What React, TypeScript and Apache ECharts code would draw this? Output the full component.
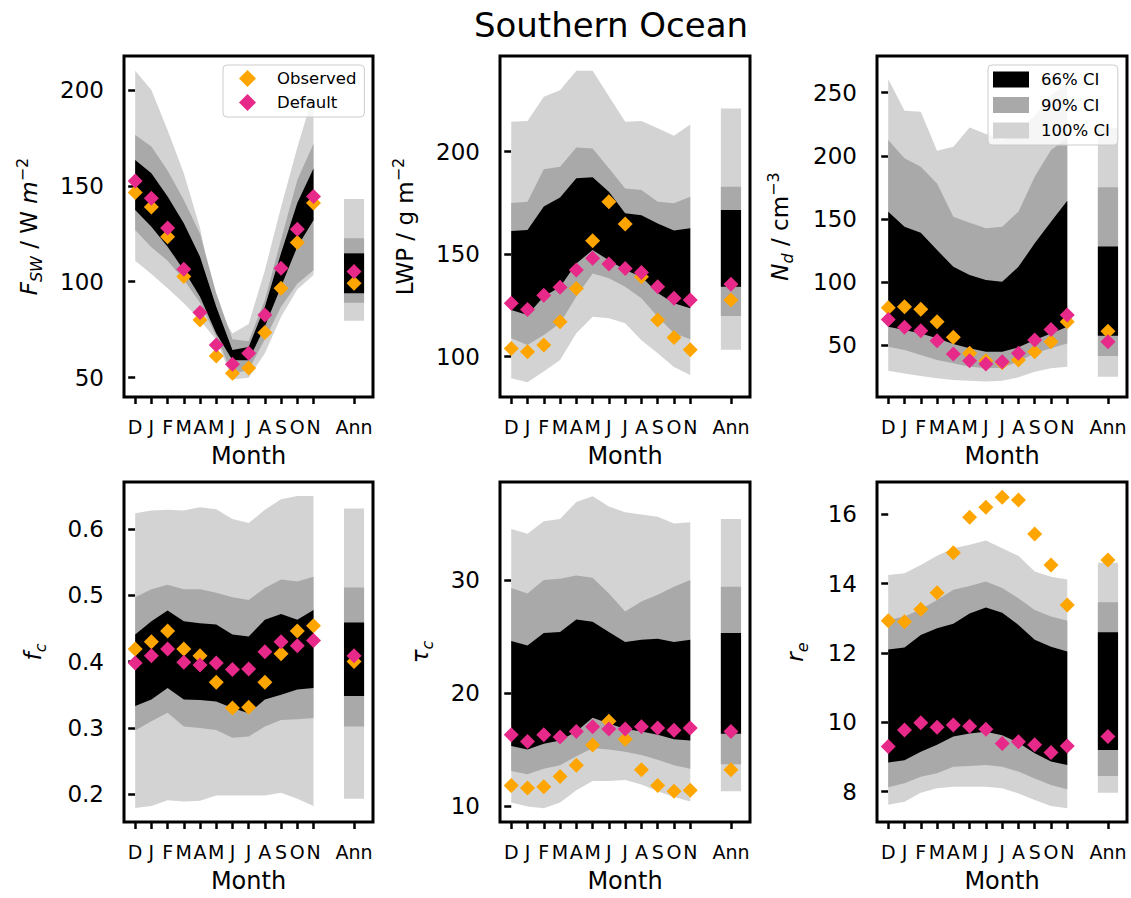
import { useEffect, useRef } from 'react';
import * as echarts from 'echarts';

const FONT = 'DejaVu Sans';
const ORANGE = '#ffa500';
const PINK = '#e7298a';
const GREY_100 = '#d3d3d3';
const GREY_90 = '#a9a9a9';
const BLACK = '#000000';

// Month order on the x axis, December first; the annual mean sits apart on the right.
const monthLabels = ['D', 'J', 'F', 'M', 'A', 'M', 'J', 'J', 'A', 'S', 'O', 'N'];
const annualLabel = 'Ann';

// Annual arrays hold: [observed, default, lo100, hi100, lo90, hi90, lo66, hi66]

// Shortwave flux F_SW (W m^-2)
const fswTicks = [50, 100, 150, 200];
const fswObserved = [146.5, 139, 123.5, 102.7, 80, 61.3, 52.3, 55, 73.5, 96.6, 120.4, 141];
const fswDefault = [152.5, 143.5, 128, 106.5, 84, 67, 57, 62.7, 82.7, 107, 127.4, 144.4];
const fswLo100 = [111, 104, 96.6, 88.8, 80, 69.6, 49, 50, 62.7, 81.8, 96, 103.5];
const fswHi100 = [210, 200, 179, 156.5, 128, 87, 73, 78, 106, 139, 170, 198];
const fswLo90 = [127, 118, 111, 101, 89, 71.4, 52, 54, 70, 87, 99, 106];
const fswHi90 = [176.5, 170.5, 158, 142.6, 125, 94, 70, 69, 90.5, 122, 153, 172];
const fswLo66 = [137.4, 128.7, 118.3, 106, 92.2, 73, 59, 59, 76.6, 97.5, 118.3, 132];
const fswHi66 = [163.5, 156.5, 144.4, 130.5, 113, 87, 64.4, 66, 87, 115, 141, 159];
const fswAnnual = [99.2, 105.3, 79.6, 143.2, 89, 122.7, 94, 114.8];

// Liquid water path (g m^-2)
const lwpTicks = [100, 150, 200];
const lwpObserved = [104, 102.4, 105.7, 117, 133.3, 156.6, 175.6, 164.7, 139, 117.9, 109.3, 103.3];
const lwpDefault = [126, 123, 130, 133.8, 142.3, 148, 145.2, 143, 141.1, 134.1, 128.5, 127.6];
const lwpLo100 = [89.4, 87.5, 92.7, 98.4, 111.4, 119.5, 118.7, 116.3, 108, 101.6, 95, 91];
const lwpHi100 = [214.6, 215, 226.8, 230, 239.5, 239.5, 227, 214.6, 215, 211.4, 207.8, 213.3];
const lwpLo90 = [109, 105.7, 110.6, 116.3, 129.3, 140.6, 138.2, 134.1, 128.5, 119.5, 111.4, 108.5];
const lwpHi90 = [175, 175.6, 191.4, 192.7, 202, 201.6, 191.9, 182, 181.3, 175.6, 174.8, 178];
const lwpLo66 = [122.8, 120.3, 129.3, 134, 145.5, 152, 147, 142.3, 139, 131, 126, 123.6];
const lwpHi66 = [161.3, 161.8, 173.2, 177.7, 187, 187.5, 180.5, 170, 169, 165, 161.5, 162.6];
const lwpAnnual = [127.6, 135.3, 103.3, 221.1, 119.8, 182.9, 134.1, 171.5];

// Droplet number concentration N_d (cm^-3)
const ndTicks = [50, 100, 150, 200, 250];
const ndObserved = [79.6, 80.4, 78.3, 68.5, 56.1, 43.4, 37.6, 36, 38.1, 44.7, 52.6, 68.5];
const ndDefault = [70.3, 64, 61.4, 53.4, 42.9, 37.6, 35, 36.8, 43.4, 54, 62.4, 73.8];
const ndLo100 = [29.7, 27.5, 25.4, 23.6, 22.3, 21.7, 21, 21.7, 24.4, 28.9, 31.5, 32.8];
const ndHi100 = [260.8, 235.7, 235, 204, 207.2, 222.5, 217.2, 212.5, 218, 232, 248, 258];
const ndLo90 = [48.7, 46, 42.1, 38.1, 35.5, 32.8, 31.5, 32, 36.8, 43.4, 47.4, 51.3];
const ndHi90 = [212.5, 198, 191.3, 178, 151.7, 147, 142.5, 143.8, 155.7, 183.4, 204.6, 214];
const ndLo66 = [64.5, 61.9, 59.2, 55.3, 50.8, 47.4, 44.7, 44.7, 48.2, 54, 59.2, 64.5];
const ndHi66 = [155.7, 143.8, 139, 125.3, 112, 105.5, 101.5, 100.2, 112, 130.6, 147.8, 164.4];
const ndAnnual = [61, 52.6, 24.9, 222, 41.3, 175, 57.4, 128];

// Cloud fraction f_c
const fcTicks = [0.2, 0.3, 0.4, 0.5, 0.6];
const fcObserved = [0.419, 0.43, 0.446, 0.419, 0.409, 0.369, 0.33, 0.331, 0.369, 0.412, 0.446, 0.454];
const fcDefault = [0.398, 0.409, 0.419, 0.399, 0.395, 0.398, 0.388, 0.389, 0.415, 0.43, 0.424, 0.432];
const fcLo100 = [0.179, 0.182, 0.191, 0.189, 0.19, 0.198, 0.198, 0.198, 0.198, 0.202, 0.193, 0.182];
const fcHi100 = [0.624, 0.628, 0.629, 0.628, 0.633, 0.63, 0.615, 0.609, 0.629, 0.645, 0.65, 0.65];
const fcLo90 = [0.296, 0.31, 0.323, 0.302, 0.3, 0.297, 0.285, 0.287, 0.302, 0.312, 0.313, 0.315];
const fcHi90 = [0.497, 0.509, 0.516, 0.509, 0.509, 0.504, 0.497, 0.493, 0.511, 0.524, 0.521, 0.528];
const fcLo66 = [0.333, 0.343, 0.36, 0.343, 0.342, 0.34, 0.33, 0.322, 0.343, 0.35, 0.358, 0.36];
const fcHi66 = [0.441, 0.461, 0.477, 0.461, 0.458, 0.456, 0.441, 0.438, 0.463, 0.472, 0.463, 0.478];
const fcAnnual = [0.4, 0.409, 0.193, 0.631, 0.302, 0.512, 0.348, 0.459];

// Cloud optical depth tau_c
const tauTicks = [10, 20, 30];
const tauObserved = [11.8, 11.6, 11.7, 12.6, 13.6, 15.4, 17.5, 15.9, 13.2, 11.8, 11.3, 11.4];
const tauDefault = [16.3, 15.7, 16.3, 16.1, 16.6, 17, 16.8, 16.8, 17, 16.9, 16.7, 16.9];
const tauLo100 = [10.3, 9.95, 9.8, 10.3, 11.4, 12.2, 12.2, 12.3, 11.9, 11.3, 10.8, 10.4];
const tauHi100 = [34.5, 34.1, 35.2, 35.4, 36.9, 37.4, 36.5, 36, 35.8, 35.6, 35, 35.1];
const tauLo90 = [13.1, 12.8, 13.3, 13.6, 14.4, 15.1, 15, 14.8, 14.5, 14.1, 13.6, 13.3];
const tauHi90 = [29.3, 28.8, 30, 30.1, 30.4, 30.2, 28.8, 27.2, 28.1, 28.7, 29.4, 30];
const tauLo66 = [15.3, 15, 15.5, 15.8, 16.6, 17.8, 17.3, 16.8, 16.6, 16.3, 15.9, 15.8];
const tauHi66 = [24.6, 24.2, 25.3, 25.4, 26.5, 26.3, 25.4, 24.5, 24.7, 24.8, 24.5, 24.7];
const tauAnnual = [13.2, 16.6, 11.3, 35.4, 13.7, 29.4, 16.4, 25.3];

// Effective radius r_e
const reTicks = [8, 10, 12, 14, 16];
const reObserved = [12.93, 12.9, 13.26, 13.74, 14.89, 15.91, 16.2, 16.49, 16.41, 15.43, 14.54, 13.38];
const reDefault = [9.3, 9.78, 9.99, 9.86, 9.92, 9.89, 9.8, 9.39, 9.44, 9.35, 9.13, 9.32];
const reLo100 = [7.62, 7.71, 7.97, 8.1, 8.14, 8.14, 8.14, 8.1, 7.95, 7.76, 7.59, 7.52];
const reHi100 = [14.25, 14.3, 14.54, 14.8, 15.02, 15.12, 15.24, 15.02, 14.8, 14.35, 14.2, 14.12];
const reLo90 = [8.13, 8.24, 8.43, 8.53, 8.72, 8.74, 8.77, 8.72, 8.58, 8.38, 8.19, 8.07];
const reHi90 = [12.95, 13.05, 13.26, 13.53, 13.82, 13.93, 14.06, 13.87, 13.58, 13.24, 13.05, 12.93];
const reLo66 = [8.84, 8.91, 9.15, 9.35, 9.59, 9.68, 9.73, 9.63, 9.41, 9.11, 8.87, 8.77];
const reHi66 = [12.1, 12.16, 12.52, 12.71, 12.84, 13.14, 13.31, 13.16, 12.81, 12.38, 12.18, 12.04];
const reAnnual = [14.68, 9.59, 7.97, 14.6, 8.45, 13.46, 9.2, 12.6];

// Layout of the x axis: months at 0..11, the annual bar centred at ANN_X.
const monthX = monthLabels.map((_, k) => k);
const ANN_X = 13.5;
const ANN_HALF = 0.62;
const X_MIN = -0.69;
const X_MAX = 14.67;

const baseText = { fontFamily: FONT, fontSize: 23, color: '#000', lineHeight: 30 };
const nameRich = {
  r: { ...baseText },
  i: { ...baseText, fontStyle: 'italic' },
  is: { fontFamily: FONT, fontSize: 16, fontStyle: 'italic', color: '#000', lineHeight: 16, verticalAlign: 'bottom' },
  sup: { fontFamily: FONT, fontSize: 16, color: '#000', lineHeight: 16, verticalAlign: 'top' },
};

type Panel = {
  grid: { left: number; top: number; width: number; height: number };
  yMin: number;
  yMax: number;
  ticks: number[];
  fmt: (v: number) => string;
  name: string;
  nameGap: number;
  obs: number[];
  def: number[];
  lo100: number[];
  hi100: number[];
  lo90: number[];
  hi90: number[];
  lo66: number[];
  hi66: number[];
  ann: number[];
};

const plain = (v: number) => String(v);

const panels: Panel[] = [
  {
    grid: { left: 124, top: 56, width: 249, height: 341 },
    yMin: 39.9, yMax: 217.7, ticks: fswTicks, fmt: plain,
    name: '{i|F}{is|SW}{r| / W }{i|m}{sup|−2}', nameGap: 80,
    obs: fswObserved, def: fswDefault,
    lo100: fswLo100, hi100: fswHi100, lo90: fswLo90, hi90: fswHi90, lo66: fswLo66, hi66: fswHi66,
    ann: fswAnnual,
  },
  {
    grid: { left: 500, top: 56, width: 250, height: 341 },
    yMin: 80.3, yMax: 246.7, ticks: lwpTicks, fmt: plain,
    name: '{r|LWP / g m}{sup|−2}', nameGap: 80,
    obs: lwpObserved, def: lwpDefault,
    lo100: lwpLo100, hi100: lwpHi100, lo90: lwpLo90, hi90: lwpHi90, lo66: lwpLo66, hi66: lwpHi66,
    ann: lwpAnnual,
  },
  {
    grid: { left: 877, top: 56, width: 250, height: 341 },
    yMin: 8.8, yMax: 279.1, ticks: ndTicks, fmt: plain,
    name: '{i|N}{is|d}{r| / cm}{sup|−3}', nameGap: 82,
    obs: ndObserved, def: ndDefault,
    lo100: ndLo100, hi100: ndHi100, lo90: ndLo90, hi90: ndHi90, lo66: ndLo66, hi66: ndHi66,
    ann: ndAnnual,
  },
  {
    grid: { left: 124, top: 482, width: 249, height: 340 },
    yMin: 0.158, yMax: 0.671, ticks: fcTicks, fmt: (v: number) => v.toFixed(1),
    name: '{i|f}{is|c}', nameGap: 76,
    obs: fcObserved, def: fcDefault,
    lo100: fcLo100, hi100: fcHi100, lo90: fcLo90, hi90: fcHi90, lo66: fcLo66, hi66: fcHi66,
    ann: fcAnnual,
  },
  {
    grid: { left: 500, top: 482, width: 250, height: 340 },
    yMin: 8.58, yMax: 38.67, ticks: tauTicks, fmt: plain,
    name: '{i|τ}{is|c}', nameGap: 65,
    obs: tauObserved, def: tauDefault,
    lo100: tauLo100, hi100: tauHi100, lo90: tauLo90, hi90: tauHi90, lo66: tauLo66, hi66: tauHi66,
    ann: tauAnnual,
  },
  {
    grid: { left: 877, top: 482, width: 250, height: 340 },
    yMin: 7.126, yMax: 16.93, ticks: reTicks, fmt: plain,
    name: '{i|r}{is|e}', nameGap: 67,
    obs: reObserved, def: reDefault,
    lo100: reLo100, hi100: reHi100, lo90: reLo90, hi90: reHi90, lo66: reLo66, hi66: reHi66,
    ann: reAnnual,
  },
];

// Filled band between a lower and an upper monthly curve, drawn as one polygon.
function bandSeries(i: number, name: string, color: string, lo: number[], hi: number[]) {
  return {
    type: 'custom',
    name,
    xAxisIndex: i,
    yAxisIndex: i,
    silent: true,
    itemStyle: { color },
    encode: { x: 0, y: [1, 2] },
    data: monthX.map((x, k) => [x, lo[k], hi[k]]),
    renderItem: (params: any, api: any) => {
      if (params.dataIndexInside !== 0) return null;
      const n = params.dataInsideLength;
      const upper: number[][] = [];
      const lower: number[][] = [];
      for (let k = 0; k < n; k++) {
        const x = api.value(0, k);
        upper.push(api.coord([x, api.value(2, k)]));
        lower.push(api.coord([x, api.value(1, k)]));
      }
      return {
        type: 'polygon',
        shape: { points: upper.concat(lower.reverse()) },
        style: { fill: color },
      };
    },
  };
}

// Annual-mean interval drawn as a bar spanning lo..hi.
function annualSeries(i: number, name: string, color: string, lo: number, hi: number) {
  return {
    type: 'custom',
    name,
    xAxisIndex: i,
    yAxisIndex: i,
    silent: true,
    itemStyle: { color },
    encode: { x: 0, y: [1, 2] },
    data: [[ANN_X, lo, hi]],
    renderItem: (_params: any, api: any) => {
      const a = api.coord([api.value(0) - ANN_HALF, api.value(2)]);
      const b = api.coord([api.value(0) + ANN_HALF, api.value(1)]);
      return {
        type: 'rect',
        shape: { x: a[0], y: a[1], width: b[0] - a[0], height: b[1] - a[1] },
        style: { fill: color },
      };
    },
  };
}

function pointSeries(i: number, name: string, color: string, monthly: number[], annual: number) {
  return {
    type: 'scatter',
    name,
    xAxisIndex: i,
    yAxisIndex: i,
    silent: true,
    symbol: 'diamond',
    symbolSize: 15,
    itemStyle: { color, opacity: 1 },
    data: [...monthX.map((x, k) => [x, monthly[k]]), [ANN_X, annual]],
  };
}

function buildOption() {
  const grids: any[] = [];
  const xAxes: any[] = [];
  const yAxes: any[] = [];
  const series: any[] = [];
  const xTickValues = [...monthX, ANN_X];

  panels.forEach((p, i) => {
    grids.push({
      ...p.grid,
      show: true,
      borderColor: '#000',
      borderWidth: 3,
      backgroundColor: 'transparent',
      containLabel: false,
    });
    xAxes.push({
      type: 'value',
      gridIndex: i,
      min: X_MIN,
      max: X_MAX,
      axisLine: { show: false },
      splitLine: { show: false },
      axisTick: { show: true, length: 7, lineStyle: { color: '#000', width: 2.5 }, customValues: xTickValues },
      axisLabel: {
        customValues: xTickValues,
        formatter: (v: number) => (v === ANN_X ? annualLabel : monthLabels[Math.round(v)]),
        fontFamily: FONT,
        fontSize: 19,
        color: '#000',
        margin: 20,
      },
      name: 'Month',
      nameLocation: 'middle',
      nameGap: 47,
      nameTextStyle: { fontFamily: FONT, fontSize: 24, color: '#000' },
    });
    yAxes.push({
      type: 'value',
      gridIndex: i,
      min: p.yMin,
      max: p.yMax,
      axisLine: { show: false },
      splitLine: { show: false },
      axisTick: { show: true, length: 7, lineStyle: { color: '#000', width: 2.5 }, customValues: p.ticks },
      axisLabel: {
        customValues: p.ticks,
        formatter: p.fmt,
        fontFamily: FONT,
        fontSize: 23,
        color: '#000',
        margin: 20,
      },
      name: p.name,
      nameLocation: 'middle',
      nameRotate: 90,
      nameGap: p.nameGap,
      nameTextStyle: { rich: nameRich },
    });

    series.push(bandSeries(i, '100% CI', GREY_100, p.lo100, p.hi100));
    series.push(annualSeries(i, '100% CI', GREY_100, p.ann[2], p.ann[3]));
    series.push(bandSeries(i, '90% CI', GREY_90, p.lo90, p.hi90));
    series.push(annualSeries(i, '90% CI', GREY_90, p.ann[4], p.ann[5]));
    series.push(bandSeries(i, '66% CI', BLACK, p.lo66, p.hi66));
    series.push(annualSeries(i, '66% CI', BLACK, p.ann[6], p.ann[7]));
    series.push(pointSeries(i, 'Observed', ORANGE, p.obs, p.ann[0]));
    series.push(pointSeries(i, 'Default', PINK, p.def, p.ann[1]));
  });

  const legendBox = {
    orient: 'vertical',
    selectedMode: false,
    backgroundColor: 'rgba(255,255,255,0.8)',
    borderColor: '#cccccc',
    borderWidth: 1,
    borderRadius: 4,
    z: 10,
  };

  return {
    animation: false,
    backgroundColor: '#ffffff',
    title: {
      text: 'Southern Ocean',
      left: 606,
      top: 3,
      textAlign: 'center',
      textStyle: { fontFamily: FONT, fontSize: 34, fontWeight: 'normal', color: '#000' },
    },
    grid: grids,
    xAxis: xAxes,
    yAxis: yAxes,
    legend: [
      {
        ...legendBox,
        left: 223,
        top: 65,
        itemWidth: 17,
        itemHeight: 17,
        itemGap: 7,
        padding: [5, 8, 6, 16],
        textStyle: { fontFamily: FONT, fontSize: 16.5, color: '#000', lineHeight: 16, padding: [0, 0, 0, 16] },
        data: [
          { name: 'Observed', icon: 'diamond', itemStyle: { color: ORANGE, borderWidth: 0 } },
          { name: 'Default', icon: 'diamond', itemStyle: { color: PINK, borderWidth: 0 } },
        ],
      },
      {
        ...legendBox,
        left: 988,
        top: 65,
        itemWidth: 36,
        itemHeight: 16,
        itemGap: 8.5,
        padding: [6, 8, 6, 5],
        textStyle: { fontFamily: FONT, fontSize: 16.5, color: '#000', lineHeight: 16, padding: [0, 0, 0, 7] },
        data: [
          { name: '66% CI', icon: 'rect', itemStyle: { color: BLACK, borderWidth: 0 } },
          { name: '90% CI', icon: 'rect', itemStyle: { color: GREY_90, borderWidth: 0 } },
          { name: '100% CI', icon: 'rect', itemStyle: { color: GREY_100, borderWidth: 0 } },
        ],
      },
    ],
    series,
  };
}

export default function App() {
  const ref = useRef<HTMLDivElement>(null);
  useEffect(() => {
    document.body.style.margin = '0';
    const chart = echarts.init(ref.current!, undefined, { renderer: 'svg' });
    chart.setOption(buildOption() as any);
    return () => chart.dispose();
  }, []);
  return <div ref={ref} style={{ width: 1131, height: 898 }} />;
}
